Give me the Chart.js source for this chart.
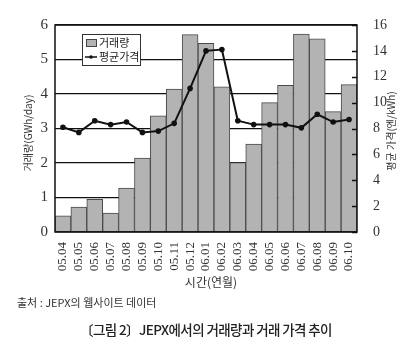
<!DOCTYPE html>
<html>
<head>
<meta charset="utf-8">
<script src="https://cdn.jsdelivr.net/npm/chart.js@4.4.1/dist/chart.umd.min.js"></script>
<style>
  body { margin: 0; background: #fff; width: 412px; height: 351px; position: relative; overflow: hidden; }
  #chartDiv { position: absolute; left: 0; top: 0; width: 412px; height: 295px; }
  .src { position: absolute; left: 17px; top: 294px; font: 11px "Noto Sans CJK KR", sans-serif; color: #333; }
  .cap { position: absolute; left: 0; width: 412px; top: 319px; text-align: center; font: 500 13.5px "Noto Sans CJK KR", sans-serif; letter-spacing: -0.6px; color: #222; }
</style>
</head>
<body>
<div id="chartDiv"><canvas id="myChart" width="412" height="295"></canvas></div>
<div class="src">출처 : JEPX의 웹사이트 데이터</div>
<div class="cap">〔그림 2〕JEPX에서의 거래량과 거래 가격 추이</div>
<script>
// 데이터
const months = ["05.04", "05.05", "05.06", "05.07", "05.08", "05.09", "05.10", "05.11", "05.12",
  "06.01", "06.02", "06.03", "06.04", "06.05", "06.06", "06.07", "06.08", "06.09", "06.10"];
const volume = [0.47, 0.72, 0.95, 0.55, 1.27, 2.14, 3.37, 4.14, 5.72,
  5.47, 4.21, 2.01, 2.55, 3.75, 4.25, 5.74, 5.60, 3.49, 4.27];
const price = [8.1, 7.7, 8.6, 8.3, 8.5, 7.7, 7.8, 8.4, 11.1,
  14.0, 14.1, 8.6, 8.3, 8.3, 8.3, 8.05, 9.1, 8.5, 8.7];
const volumeTicks = [0, 1, 2, 3, 4, 5, 6];
const priceTicks = [0, 2, 4, 6, 8, 10, 12, 14, 16];

const serif = "'Liberation Serif', 'DejaVu Serif', serif";
const kr = "'Noto Sans CJK KR', sans-serif";

// 틀, 범례, 축 제목을 직접 그림
const extras = {
  id: "extras",
  afterDatasetsDraw(chart) {
    const ctx = chart.ctx;
    const a = chart.chartArea;
    const y1 = chart.scales.y1;
    ctx.save();
    ctx.strokeStyle = "#111";
    ctx.lineWidth = 1.5;
    // 오른쪽 축 눈금
    priceTicks.forEach(v => {
      const py = Math.round(y1.getPixelForValue(v)) + 0.5;
      ctx.beginPath();
      ctx.moveTo(a.right - 5, py);
      ctx.lineTo(a.right, py);
      ctx.stroke();
    });
    ctx.strokeRect(a.left, a.top, a.right - a.left, a.bottom - a.top);

    // 범례
    const lx = a.left + 27, ly = a.top + 9;
    ctx.fillStyle = "#fff";
    ctx.fillRect(lx, ly, 58, 31);
    ctx.lineWidth = 1;
    ctx.strokeStyle = "#333";
    ctx.strokeRect(lx + 0.5, ly + 0.5, 58, 31);
    ctx.fillStyle = "#b3b3b3";
    ctx.fillRect(lx + 4, ly + 5, 10, 7);
    ctx.strokeStyle = "#444";
    ctx.strokeRect(lx + 4.5, ly + 5.5, 10, 7);
    ctx.strokeStyle = "#111";
    ctx.lineWidth = 1.5;
    ctx.beginPath();
    ctx.moveTo(lx + 3, ly + 23);
    ctx.lineTo(lx + 15, ly + 23);
    ctx.stroke();
    ctx.fillStyle = "#111";
    ctx.beginPath();
    ctx.arc(lx + 9, ly + 23, 1.8, 0, Math.PI * 2);
    ctx.fill();
    ctx.fillStyle = "#222";
    ctx.font = "11px " + kr;
    ctx.textBaseline = "middle";
    ctx.textAlign = "left";
    ctx.fillText("거래량", lx + 17, ly + 9);
    ctx.fillText("평균가격", lx + 17, ly + 23);

    // 축 제목
    ctx.font = "10px " + kr;
    ctx.fillStyle = "#333";
    ctx.textAlign = "center";
    ctx.save();
    ctx.translate(28, 133);
    ctx.rotate(-Math.PI / 2);
    ctx.fillText("거래량(GWh/day)", 0, 0);
    ctx.restore();
    ctx.save();
    ctx.translate(391, 131);
    ctx.rotate(-Math.PI / 2);
    ctx.fillText("평균 가격(엔/kWh)", 0, 0);
    ctx.restore();
    ctx.font = "12px " + kr;
    ctx.fillText("시간(연월)", 211, 282);
    ctx.restore();
  }
};

const ctx = document.getElementById("myChart");

new Chart(ctx, {
  data: {
    labels: months,
    datasets: [
      {
        type: "line",
        label: "평균가격",
        data: price,
        yAxisID: "y1",
        borderColor: "#111",
        backgroundColor: "#111",
        borderWidth: 2,
        pointRadius: 1.8,
        pointHoverRadius: 1.8,
        tension: 0,
        order: 0,
      },
      {
        type: "bar",
        label: "거래량",
        data: volume,
        yAxisID: "y",
        backgroundColor: "#b3b3b3",
        borderColor: "#4a4a4a",
        borderWidth: 1,
        barPercentage: 1,
        categoryPercentage: 1,
        order: 1,
      },
    ],
  },
  options: {
    responsive: false,
    animation: false,
    events: [],
    layout: { padding: { top: 25, left: 0, right: 0, bottom: 0 } },
    plugins: { legend: { display: false }, tooltip: { enabled: false } },
    scales: {
      x: {
        grid: { display: false },
        border: { display: false },
        ticks: {
          autoSkip: false,
          maxRotation: 90,
          minRotation: 90,
          padding: 2,
          color: "#333",
          font: { family: serif, size: 13 },
        },
        afterFit(s) { s.height = 63; },
      },
      y: {
        position: "left",
        min: 0,
        max: 6,
        afterBuildTicks(s) { s.ticks = volumeTicks.map(v => ({ value: v })); },
        grid: { color: "#111", lineWidth: 1.3, drawTicks: false },
        border: { display: false },
        ticks: { padding: 7, color: "#333", font: { family: serif, size: 15 } },
        afterFit(s) { s.width = 55; },
      },
      y1: {
        position: "right",
        min: 0,
        max: 16,
        afterBuildTicks(s) { s.ticks = priceTicks.map(v => ({ value: v })); },
        grid: { display: false },
        border: { display: false },
        ticks: { padding: 8, color: "#333", font: { family: serif, size: 14 } },
        afterFit(s) { s.width = 55; },
      },
    },
  },
  plugins: [extras],
});
</script>
</body>
</html>
